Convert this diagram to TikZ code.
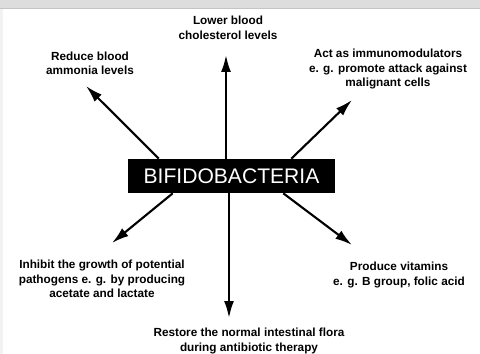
\documentclass[tikz,border=0pt]{standalone}
\usepackage{fontspec}
\setmainfont{Liberation Sans}
\usetikzlibrary{positioning, arrows.meta, calc}
\definecolor{barGray}{RGB}{221,221,221}
\definecolor{edgeGray}{RGB}{196,196,196}

\begin{document}
\begin{tikzpicture}[
  x=0.02cm, y=-0.02cm,
  lbl/.style={align=center, inner sep=0pt, font=\fontsize{6.7}{8.2}\selectfont\bfseries},
  core/.style={fill=black, text=white, minimum width=4.14cm, minimum height=0.68cm, inner sep=0pt, font=\fontsize{12}{14}\selectfont},
  ray/.style={-{Latex[length=3.4mm, width=2mm]}, line width=1.2pt}
]
\useasboundingbox (0,0) rectangle (480,354);
% --- frame ---
\fill[barGray] (0,0) rectangle (480,8);
\draw[edgeGray, line width=0.6pt] (0,8.5) -- (480,8.5);
\fill[black!5] (0,9) rectangle (3,354);
% --- centre box ---
\node[core] (bifido) at (231.5,176) {BIFIDOBACTERIA};
% --- arrow ends ---
\coordinate (tipN)  at (226,55);
\coordinate (tipNW) at (86,86);
\coordinate (tipNE) at (352,100);
\coordinate (tipS)  at (229,318);
\coordinate (tipSW) at (112,243);
\coordinate (tipSE) at (352,245);
% --- labels ---
\node[lbl] (cholesterol) at (228,28) {Lower blood\\cholesterol levels};
\node[lbl] (ammonia) at (90,63) {Reduce blood\\ammonia levels};
\node[lbl] (immuno) at (388,69) {Act as immunomodulators\\e. g. promote attack against\\malignant cells};
\node[lbl] (pathogens) at (102,279) {Inhibit the growth of potential\\pathogens e. g. by producing\\acetate and lactate};
\node[lbl] (vitamins) at (399,275) {Produce vitamins\\e. g. B group, folic acid};
\node[lbl] (flora) at (249,341) {Restore the normal intestinal flora\\during antibiotic therapy};
% --- rays ---
\draw[ray] ($(bifido.north)+(-5.5,0)$) -- (tipN);
\draw[ray] ($(bifido.north west)+(31,0)$) -- (tipNW);
\draw[ray] ($(bifido.north east)+(-44,0)$) -- (tipNE);
\draw[ray] ($(bifido.south)+(-2.5,0)$) -- (tipS);
\draw[ray] ($(bifido.south west)+(45,0)$) -- (tipSW);
\draw[ray] ($(bifido.south east)+(-52,0)$) -- (tipSE);
\end{tikzpicture}
\end{document}
